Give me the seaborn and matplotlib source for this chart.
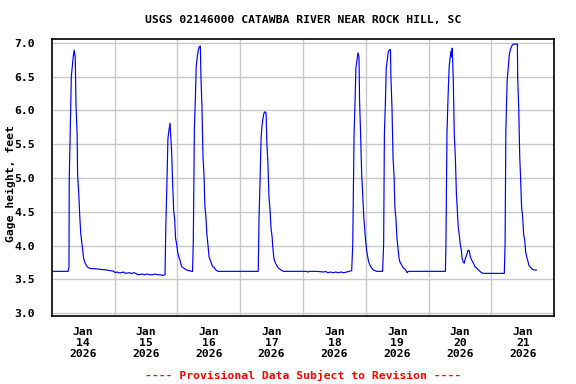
import matplotlib
matplotlib.use("Agg")
import matplotlib.pyplot as plt
import seaborn as sns
import pandas as pd

# Hours after 2026-01-14 00:00 and gage height (feet)
hours_from_jan14 = [
    0.0, 6.3,
    6.6, 6.7, 7.1, 7.5, 7.9, 8.3, 8.6, 9.0, 9.3, 9.7, 9.9, 10.3, 10.7, 11.1, 11.4, 11.8,
    12.2, 12.8, 13.5, 14.2, 15.3, 16.5, 18.4, 21.0, 23.8,
    24.2, 25.0, 25.5, 26.5, 27.5, 28.3, 29.5, 30.5, 31.5, 32.0, 33.0, 34.5, 35.5, 36.5,
    37.5, 38.5, 39.5, 40.5, 41.5, 42.5, 43.3,
    43.6, 44.0, 44.4, 44.8, 45.2, 45.4, 45.8, 46.2, 46.6, 47.0, 47.3, 47.7, 48.1, 48.5,
    49.0, 49.6, 50.3, 51.5, 53.5,
    53.8, 54.1, 54.5, 54.9, 55.2, 55.6, 56.0, 56.4, 56.8, 57.0, 57.4, 57.8, 58.2, 58.5,
    58.9, 59.3, 59.7, 60.1, 60.5, 61.0, 61.5, 62.0, 62.7, 63.6,
    78.9,
    79.2, 79.6, 80.0, 80.3, 80.7, 81.1, 81.5, 81.9, 82.2, 82.6, 83.0, 83.4, 83.8, 84.2,
    84.5, 84.9, 85.3, 85.9, 86.6, 87.2, 88.5,
    97.4, 97.8, 98.5, 101.0, 104.0, 104.5, 105.5, 106.5, 107.5, 108.5, 109.5, 110.5,
    111.5, 112.7, 114.6,
    115.0, 115.5, 115.9, 116.2, 116.6, 117.0, 117.4, 117.6, 118.0, 118.4, 118.8, 119.2,
    119.5, 119.9, 120.3, 120.7, 121.1, 121.6, 122.2, 122.9, 124.1,
    126.4,
    126.8, 127.1, 127.5, 127.8, 128.2, 128.6, 129.0, 129.4, 129.6, 130.0, 130.4, 130.8,
    131.1, 131.5, 131.9, 132.3, 132.7, 133.0, 133.7, 134.3, 135.0, 135.8, 136.2,
    150.4,
    150.6, 151.0, 151.4, 151.8, 152.1, 152.5, 152.8, 153.0, 153.4, 153.8, 154.2, 154.6,
    154.9, 155.3, 155.7, 156.1, 156.5, 156.8, 157.2, 157.6, 158.0, 158.5, 159.0, 159.5,
    159.9, 160.4, 161.1, 161.7, 162.3, 163.3, 164.2, 164.9, 172.9,
    173.2, 173.5, 174.0, 174.4, 174.8, 175.2, 175.6, 176.1, 176.6, 177.9, 178.0, 178.4,
    178.8, 179.1, 179.5, 179.9, 180.3, 180.7, 181.0, 181.4, 181.8, 182.3, 182.9, 183.6,
    184.4, 185.2,
]
gage_height_ft = [
    3.62, 3.62,
    3.69, 4.97, 5.76, 6.50, 6.66, 6.82, 6.89, 6.77, 6.05, 5.65, 5.04, 4.80, 4.45, 4.18, 4.08, 3.96,
    3.81, 3.74, 3.69, 3.67, 3.66, 3.66, 3.65, 3.64, 3.62,
    3.60, 3.61, 3.60, 3.60, 3.61, 3.59, 3.60, 3.59, 3.60, 3.59, 3.57, 3.58, 3.57, 3.58,
    3.57, 3.57, 3.58, 3.57, 3.57, 3.56, 3.57,
    4.30, 4.89, 5.58, 5.71, 5.81, 5.66, 5.41, 4.92, 4.52, 4.38, 4.11, 4.03, 3.91, 3.84,
    3.79, 3.69, 3.67, 3.64, 3.62,
    3.62, 4.08, 5.73, 6.20, 6.64, 6.79, 6.89, 6.94, 6.95, 6.50, 6.05, 5.31, 5.03, 4.60,
    4.43, 4.16, 4.01, 3.84, 3.79, 3.74, 3.69, 3.68, 3.64, 3.62,
    3.62,
    4.40, 4.97, 5.61, 5.76, 5.88, 5.96, 5.98, 5.96, 5.51, 5.22, 4.72, 4.53, 4.25, 4.13,
    3.96, 3.81, 3.76, 3.71, 3.67, 3.65, 3.62,
    3.62, 3.61, 3.62, 3.62, 3.61, 3.62, 3.60, 3.61, 3.60, 3.61, 3.60, 3.61,
    3.60, 3.61, 3.63,
    4.01, 5.63, 6.15, 6.62, 6.74, 6.85, 6.79, 6.15, 5.66, 5.07, 4.77, 4.43,
    4.28, 4.08, 3.93, 3.84, 3.76, 3.71, 3.67, 3.64, 3.62,
    3.62,
    4.01, 5.66, 6.15, 6.62, 6.74, 6.87, 6.89, 6.90, 6.47, 6.03, 5.29, 5.02,
    4.57, 4.40, 4.11, 3.96, 3.81, 3.76, 3.71, 3.67, 3.65, 3.60, 3.62,
    3.62,
    4.01, 5.66, 6.18, 6.62, 6.74, 6.87, 6.79, 6.92, 6.47, 5.63, 5.31, 4.77,
    4.57, 4.28, 4.16, 4.01, 3.93, 3.81, 3.76, 3.74, 3.81, 3.86, 3.93, 3.93,
    3.84, 3.79, 3.74, 3.69, 3.67, 3.63, 3.60, 3.59, 3.59,
    4.03, 5.71, 6.45, 6.62, 6.82, 6.89, 6.94, 6.97, 6.98, 6.98, 6.50, 6.05,
    5.31, 5.02, 4.57, 4.43, 4.16, 4.08, 3.93, 3.84, 3.79, 3.71, 3.68, 3.65,
    3.64, 3.64,
]
x_tick_labels = ["Jan\n14\n2026", "Jan\n15\n2026", "Jan\n16\n2026", "Jan\n17\n2026",
                 "Jan\n18\n2026", "Jan\n19\n2026", "Jan\n20\n2026", "Jan\n21\n2026"]
y_ticks = [3.0, 3.5, 4.0, 4.5, 5.0, 5.5, 6.0, 6.5, 7.0]
title = "USGS 02146000 CATAWBA RIVER NEAR ROCK HILL, SC"
footer = "---- Provisional Data Subject to Revision ----"

start = pd.Timestamp("2026-01-14 00:00")
df = pd.DataFrame({
    "time": start + pd.to_timedelta(hours_from_jan14, unit="h"),
    "gage": gage_height_ft,
})

sns.set_theme(style="white")
plt.rcParams["font.family"] = ["DejaVu Sans Mono"]
plt.rcParams["font.weight"] = "bold"
plt.rcParams["text.color"] = "black"
FS = 8.2

fig = plt.figure(figsize=(5.76, 3.84), dpi=100)
ax = fig.add_axes([51.7 / 576, 1 - 316 / 384, (554.3 - 51.7) / 576, (316 - 39.3) / 384])
sns.lineplot(data=df, x="time", y="gage", ax=ax, color="#0000FF", linewidth=0.85)

ax.set_xlim(start, start + pd.Timedelta(days=8))
ax.set_ylim(2.96, 7.05)

major = [start + pd.Timedelta(days=i) for i in range(1, 8)]
ax.set_xticks(major)
ax.set_xticklabels([""] * len(major))
minor = [start + pd.Timedelta(days=i, hours=12) for i in range(8)]
ax.set_xticks(minor, minor=True)
ax.set_xticklabels(x_tick_labels, minor=True, fontsize=FS, fontweight="bold",
                   linespacing=1.1, color="black")
ax.tick_params(axis="x", which="both", length=0, pad=8)

ax.set_yticks(y_ticks)
ax.set_yticklabels([f"{v:.1f}" for v in y_ticks], fontsize=FS, fontweight="bold",
                   color="black")
ax.tick_params(axis="y", length=0, pad=12)

ax.grid(True, which="major", color="#C8C8C8", linewidth=1.0)
ax.set_axisbelow(True)
for s in ax.spines.values():
    s.set_color("black")
    s.set_linewidth(1.2)

ax.set_xlabel("")
ax.set_ylabel("Gage height, feet", fontsize=FS, fontweight="bold", color="black")
ax.yaxis.set_label_coords(-0.072, 0.48)

cx = (51.7 + 554.3) / 2 / 576
fig.text(cx, 1 - 20 / 384, title, ha="center", va="center", fontsize=FS,
         fontweight="bold", color="black")
fig.text(cx, 1 - 375 / 384, footer, ha="center", va="center", fontsize=FS,
         fontweight="bold", color="#FF0000")

fig.savefig("out.png", dpi=100)
